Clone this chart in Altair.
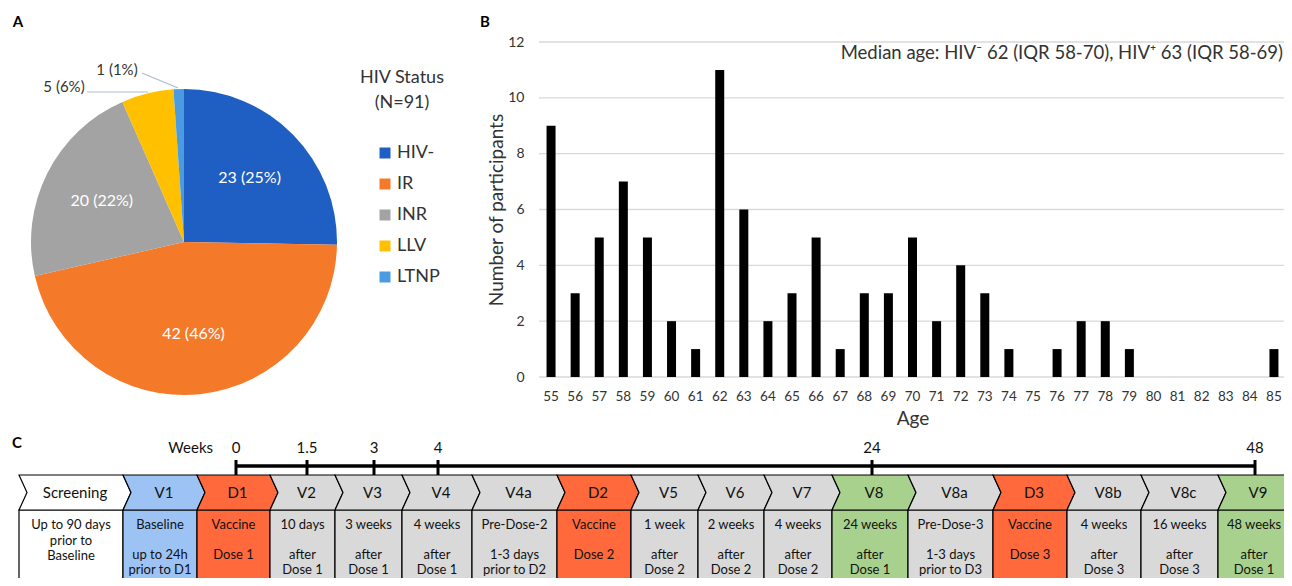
import altair as alt
import pandas as pd

# ---------------- Panel A : HIV status ----------------
status = ["HIV-", "IR", "INR", "LLV", "LTNP"]
status_n = [23, 42, 20, 5, 1]
status_pct = [25, 46, 22, 6, 1]
status_colors = ["#1F5EC2", "#F47A2A", "#A3A3A3", "#FFC000", "#4A9BE0"]

# ---------------- Panel B : age distribution ----------------
ages = list(range(55, 86))
age_counts = [9, 3, 5, 7, 5, 2, 1, 11, 6, 2,
              3, 5, 1, 3, 3, 5, 2, 4, 3, 1,
              0, 1, 2, 2, 1, 0, 0, 0, 0, 0, 1]
y_ticks = [0, 2, 4, 6, 8, 10, 12]
median_note = "Median age: HIV\u207b 62 (IQR 58-70), HIV\u207a 63 (IQR 58-69)"

# ---------------- Panel C : study timeline ----------------
visits = ["Screening", "V1", "D1", "V2", "V3", "V4", "V4a", "D2", "V5", "V6",
          "V7", "V8", "V8a", "D3", "V8b", "V8c", "V9"]
visit_kind = ["screen", "base", "dose", "visit", "visit", "visit", "visit", "dose",
              "visit", "visit", "visit", "key", "visit", "dose", "visit", "visit", "key"]
visit_top = [
    ["Up to 90 days", "prior to", "Baseline"],
    ["Baseline"], ["Vaccine"], ["10 days"], ["3 weeks"], ["4 weeks"],
    ["Pre-Dose-2"], ["Vaccine"], ["1 week"], ["2 weeks"], ["4 weeks"],
    ["24 weeks"], ["Pre-Dose-3"], ["Vaccine"], ["4 weeks"], ["16 weeks"],
    ["48 weeks"],
]
visit_bottom = [
    [""],
    ["up to 24h", "prior to D1"], ["Dose 1"], ["after", "Dose 1"],
    ["after", "Dose 1"], ["after", "Dose 1"], ["1-3 days", "prior to D2"],
    ["Dose 2"], ["after", "Dose 2"], ["after", "Dose 2"], ["after", "Dose 2"],
    ["after", "Dose 1"], ["1-3 days", "prior to D3"], ["Dose 3"],
    ["after", "Dose 3"], ["after", "Dose 3"], ["after", "Dose 1"],
]
weeks = [0, 1.5, 3, 4, 24, 48]

# layout (pixels of the drawing)
cell_edges = [11, 115, 189, 262, 327, 394, 464, 549, 623, 690, 756, 824,
              900, 985, 1059, 1133, 1210, 1282]
week_px = [228, 299, 366, 430, 864, 1247]
kinds = ["screen", "base", "dose", "visit", "key"]
kind_colors = ["#FFFFFF", "#9DC3F5", "#FF693C", "#D9D9D9", "#A9D18E"]
FONT = "Lato"
TXT = "#333333"
W, H = 1276, 570
DY = -4  # vertical shift of panel C

# ================= Panel A =================
pie_df = pd.DataFrame({"status": status, "n": status_n, "pct": status_pct,
                       "idx": list(range(len(status)))})
pie_df["label"] = [f"{n} ({p}%)" for n, p in zip(status_n, status_pct)]
pie_df["inner"] = [lab if n >= 10 else "" for lab, n in zip(pie_df["label"], status_n)]

CX, CY, R = 176, 234, 153
pie_base = alt.Chart(pie_df).encode(
    theta=alt.Theta("n:Q", stack=True),
    order=alt.Order("idx:Q"),
    x=alt.value(CX), y=alt.value(CY),
)
arcs = pie_base.mark_arc(outerRadius=R).encode(
    color=alt.Color("status:N",
                    scale=alt.Scale(domain=status, range=status_colors),
                    legend=alt.Legend(orient="none", legendX=368, legendY=136, title=None,
                                      symbolType="square", symbolSize=121, symbolStrokeWidth=0,
                                      labelFontSize=18, labelOffset=3, rowPadding=13,
                                      padding=0, labelColor=TXT, labelFont=FONT)),
)
inner_lab = pie_base.mark_text(radius=92, fontSize=16, color="white").encode(
    text="inner:N", detail="status:N")
pie_layer = alt.layer(arcs, inner_lab)

llv_lab = alt.Chart(pie_df).transform_filter(alt.datum.status == "LLV").mark_text(
    fontSize=15, color=TXT, align="center", baseline="middle").encode(
    text="label:N", x=alt.value(56), y=alt.value(79))
ltnp_lab = alt.Chart(pie_df).transform_filter(alt.datum.status == "LTNP").mark_text(
    fontSize=15, color=TXT, align="center", baseline="middle").encode(
    text="label:N", x=alt.value(109), y=alt.value(62))
llv_lead = alt.Chart(pie_df).transform_filter(alt.datum.status == "LLV").mark_rule(
    color="#A9BCD3", strokeWidth=1.2).encode(
    x=alt.value(79), x2=alt.value(140), y=alt.value(84), y2=alt.value(84))
ltnp_lead = alt.Chart(pie_df).transform_filter(alt.datum.status == "LTNP").mark_rule(
    color="#A9BCD3", strokeWidth=1.2).encode(
    x=alt.value(134), x2=alt.value(170), y=alt.value(65), y2=alt.value(80))

legend_title = alt.Chart(pd.DataFrame({"t": [["HIV Status", "(N=91)"]]})).mark_text(
    fontSize=18, color=TXT, align="center", baseline="middle",
    lineHeight=25).encode(text="t", x=alt.value(394), y=alt.value(70))

# ================= Panel B =================
bar_df = pd.DataFrame({"age": ages, "n": age_counts})
grid_df = pd.DataFrame({"n": y_ticks})

yenc = alt.Y("n:Q", scale=alt.Scale(domain=[0, 12], range=[369, 34], nice=False),
             axis=alt.Axis(orient="left", offset=-522, values=y_ticks, grid=False,
                           ticks=False, domain=False, labelPadding=6, labelFontSize=14,
                           labelColor=TXT, title="Number of participants",
                           titleFontSize=19, titleFontWeight="normal", titleColor=TXT,
                           titlePadding=1, labelFont=FONT, titleFont=FONT))
xenc = alt.X("age:O", scale=alt.Scale(range=[531, 1278], paddingInner=0, paddingOuter=0),
             axis=alt.Axis(orient="bottom", offset=-(H - 369), labelAngle=0, ticks=False,
                           domain=False, labelPadding=12, labelFontSize=13.5,
                           labelColor=TXT, title="Age", titleFontSize=19,
                           titleFontWeight="normal", titleColor=TXT, titlePadding=7,
                           labelFont=FONT, titleFont=FONT))

grid = alt.Chart(grid_df).mark_rule(color="#D9D9D9", strokeWidth=1.3).encode(
    y=yenc, x=alt.value(531), x2=alt.value(1276))
bars = alt.Chart(bar_df).mark_bar(size=9, color="black").encode(x=xenc, y=yenc)
bar_layer = alt.layer(grid, bars)

note = alt.Chart(pd.DataFrame({"t": [median_note]})).mark_text(
    fontSize=18.5, color=TXT, align="right", baseline="middle").encode(
    text="t:N", x=alt.value(1275), y=alt.value(45))

# ================= Panel C =================
cells = pd.DataFrame({"visit": visits, "kind": visit_kind,
                      "left": cell_edges[:-1], "right": cell_edges[1:],
                      "top": visit_top, "bottom": visit_bottom})
T, M, B, NOTCH = 471 + DY, 488.5 + DY, 506 + DY, 8
rows = []
for v, k, l, r in zip(visits, visit_kind, cell_edges[:-1], cell_edges[1:]):
    for yy, off in ((T, 0), (M, NOTCH), (B, 0)):
        rows.append({"visit": v, "kind": k, "y": yy, "xl": l + off, "xr": r + off})
chev_df = pd.DataFrame(rows)

kind_color = alt.Color("kind:N", scale=alt.Scale(domain=kinds, range=kind_colors), legend=None)

chevrons = alt.Chart(chev_df).mark_area(
    orient="horizontal", stroke="black", strokeWidth=1.2, interpolate="linear").encode(
    y=alt.Y("y:Q", scale=None, axis=None),
    x=alt.X("xl:Q", scale=None, stack=None, axis=None),
    x2="xr:Q",
    color=kind_color,
    detail="visit:N",
)
boxes = alt.Chart(cells).mark_rect(stroke="black", strokeWidth=1.2).encode(
    x=alt.X("left:Q", scale=None, axis=None), x2="right:Q",
    y=alt.value(B), y2=alt.value(590), color=kind_color)
chev_text = alt.Chart(cells).transform_calculate(
    cx=f"(datum.left + datum.right) / 2 + {NOTCH / 2}").mark_text(
    fontSize=15, color="#111111", baseline="middle").encode(
    x=alt.X("cx:Q", scale=None, axis=None), y=alt.value(M), text="visit:N")
box_base = alt.Chart(cells).transform_calculate(cx="(datum.left + datum.right) / 2")
box_top = box_base.mark_text(fontSize=13, color="#111111", baseline="top", lineHeight=15.5).encode(
    x=alt.X("cx:Q", scale=None, axis=None), y=alt.value(B + 9), text="top")
box_bottom = box_base.mark_text(fontSize=13, color="#111111", baseline="top", lineHeight=15).encode(
    x=alt.X("cx:Q", scale=None, axis=None), y=alt.value(B + 39), text="bottom")
cells_layer = alt.layer(boxes, chevrons, chev_text, box_top, box_bottom)

wk_df = pd.DataFrame({"w": weeks, "lab": [f"{w:g}" for w in weeks]})
span_df = pd.DataFrame({"w0": [weeks[0]], "w1": [weeks[-1]]})
wscale = alt.Scale(domain=weeks, range=week_px, nice=False, zero=False)
wk_line = alt.Chart(span_df).mark_rule(color="black", strokeWidth=3.5).encode(
    x=alt.X("w0:Q", scale=wscale, axis=None), x2="w1:Q", y=alt.value(462 + DY))
wk_ticks = alt.Chart(wk_df).mark_rule(color="black", strokeWidth=3).encode(
    x=alt.X("w:Q", scale=wscale, axis=None), y=alt.value(456 + DY), y2=alt.value(471 + DY))
wk_labels = alt.Chart(wk_df).mark_text(fontSize=15, color="#111111", baseline="middle").encode(
    x=alt.X("w:Q", scale=wscale, axis=None), y=alt.value(444 + DY), text="lab:N")
weeks_layer = alt.layer(wk_line, wk_ticks, wk_labels)

weeks_word = alt.Chart(pd.DataFrame({"t": ["Weeks"]})).mark_text(
    fontSize=15, color="#111111", align="right", baseline="middle").encode(
    text="t:N", x=alt.value(205), y=alt.value(444 + DY))

letters = alt.Chart(pd.DataFrame({"t": ["A", "B", "C"]})).mark_text(
    fontSize=15, fontWeight="bold", color="black", align="center", baseline="middle")
letter_a = letters.transform_filter(alt.datum.t == "A").encode(
    text="t:N", x=alt.value(10), y=alt.value(14))
letter_b = letters.transform_filter(alt.datum.t == "B").encode(
    text="t:N", x=alt.value(477), y=alt.value(14))
letter_c = letters.transform_filter(alt.datum.t == "C").encode(
    text="t:N", x=alt.value(9), y=alt.value(439 + DY))

chart = alt.layer(
    pie_layer, llv_lead, ltnp_lead, llv_lab, ltnp_lab, legend_title,
    bar_layer, note,
    cells_layer, weeks_layer, weeks_word,
    letter_a, letter_b, letter_c,
).resolve_scale(
    x="independent", y="independent", color="independent", theta="independent"
).properties(
    width=W, height=H, padding=0,
    autosize=alt.AutoSizeParams(type="none"),
).configure(font=FONT).configure_view(stroke=None)

chart.save("out.html", embed_options={"renderer": "svg", "actions": False})
